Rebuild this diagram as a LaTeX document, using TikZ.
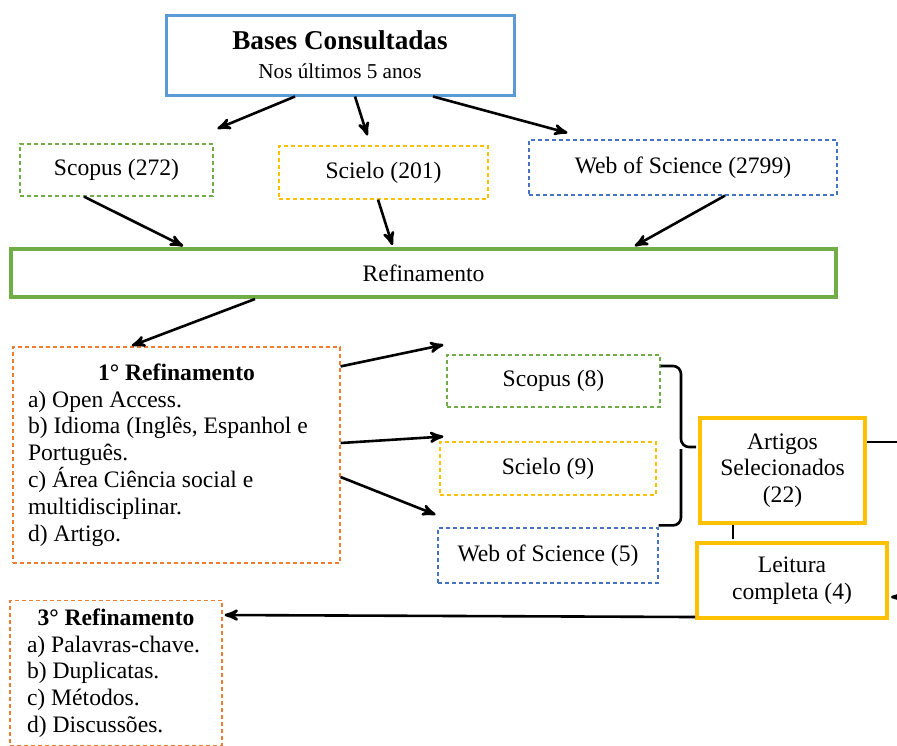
\documentclass[tikz,border=0pt]{standalone}
\usepackage{fontspec}
\setmainfont{Liberation Serif}
\usepackage{xcolor}
\usetikzlibrary{arrows, positioning}
\definecolor{basesblue}{HTML}{5B9BD5}
\definecolor{scopgreen}{HTML}{70AD47}
\definecolor{scielogold}{HTML}{FFC000}
\definecolor{wosblue}{HTML}{4472C4}
\definecolor{reforange}{HTML}{ED7D31}

\begin{document}
\begin{tikzpicture}[->,
			>=stealth',
			shorten >=1pt,
			x=0.5pt, y=-0.5pt,
			line width=1.3pt,
			font=\fontsize{11.8}{13.4}\selectfont,
			dbox/.style={draw, dash pattern=on 2pt off 1.5pt, line width=0.6pt, align=center, inner sep=0pt},
			sbox/.style={draw, line width=2pt, align=center, inner sep=0pt}]
			
			\useasboundingbox (0,0) rectangle (897,745);
			\clip (0,0) rectangle (897,745);
			
			\node[sbox, draw=basesblue, line width=1.5pt, minimum width=174pt, minimum height=40pt] (bases) at (340,55) {{\fontsize{13.6}{14}\selectfont\bfseries Bases Consultadas}\\[1pt]{\fontsize{10.6}{12}\selectfont Nos últimos 5 anos}};
			
			\node[dbox, draw=scopgreen, minimum width=96.5pt, minimum height=26pt] (scopusA) at (116.5,170) {Scopus (272)};
			\node[dbox, draw=scielogold, minimum width=104.5pt, minimum height=26.5pt] (scieloA) at (383.5,172.5) {Scielo (201)};
			\node[dbox, draw=wosblue, minimum width=154pt, minimum height=27.5pt] (wosA) at (683,167.5) {Web of Science (2799)};
			
			\node[sbox, draw=scopgreen, minimum width=412.5pt, minimum height=24pt] (refin) at (423.5,273) {Refinamento};
			
			\node[dbox, draw=reforange, text width=148.5pt, inner xsep=7.5pt, minimum height=108pt, align=flush left] (ref1) at (176.5,455) {\makebox[\linewidth]{\bfseries 1° Refinamento}\\ a) Open Access.\\ b) Idioma (Inglês, Espanhol e\\ Português.\\ c) Área Ciência social e\\ multidisciplinar.\\ d) Artigo.};
			
			\node[dbox, draw=scopgreen, minimum width=106.5pt, minimum height=26pt] (scopusB) at (553.5,381) {Scopus (8)};
			\node[dbox, draw=scielogold, minimum width=108pt, minimum height=26.5pt] (scieloB) at (548,468.5) {Scielo (9)};
			\node[dbox, draw=wosblue, minimum width=110pt, minimum height=27.5pt] (wosB) at (548,555.5) {Web of Science (5)};
			
			\node[sbox, draw=scielogold, minimum width=82.5pt, minimum height=52.5pt] (artigos) at (782.5,470.5) {Artigos\\ Selecionados\\ (22)};
			\node[sbox, draw=scielogold, minimum width=95pt, minimum height=37.5pt] (leitura) at (792,580.5) {Leitura\\ completa (4)};
			
			\node[dbox, draw=reforange, text width=89pt, inner xsep=8.5pt, inner ysep=4pt, anchor=north, align=flush left] (ref3) at (116,600) {\makebox[\linewidth]{\bfseries 3° Refinamento}\\ a) Palavras-chave.\\ b) Duplicatas.\\ c) Métodos.\\ d) Discussões.};
			
			\draw ([xshift=-22.5pt]bases.south) -- ([xshift=1pt, yshift=7pt]scopusA.north east);
			\draw ([xshift=7.5pt]bases.south) -- ([xshift=-7.75pt, yshift=4pt]scieloA.north);
			\draw ([xshift=46.5pt]bases.south) -- ([xshift=20.5pt, yshift=3pt]wosA.north west);
			
			\draw ([xshift=-16.25pt]scopusA.south) -- ([xshift=-119.25pt]refin.north);
			\draw ([xshift=-2.75pt]scieloA.south) -- ([xshift=-15.25pt]refin.north);
			\draw ([xshift=21pt]wosA.south) -- ([xshift=104.75pt]refin.north);
			
			\draw ([xshift=-84.25pt]refin.south) -- ([xshift=-23.25pt]ref1.north);
			
			\draw ([yshift=-10pt]ref1.north east) -- ([xshift=-0.5pt, yshift=5pt]scopusB.north west);
			\draw ([yshift=6pt]ref1.east) -- ([xshift=3pt, yshift=2.5pt]scieloB.north west);
			\draw ([yshift=-11pt]ref1.east) -- ([yshift=6pt]wosB.north west);
			
			\coordinate (tip) at ([xshift=-8.5pt, yshift=11.75pt]artigos.west);
			\draw[-, rounded corners=4pt] ([yshift=7.5pt]scopusB.east) -| (tip) -- (tip -| artigos.west);
			\draw[-, rounded corners=4pt] ([yshift=1pt]wosB.north east) -| (tip);
			
			\draw ([yshift=14.25pt]artigos.east) -- ++(20pt,0) |- ([yshift=-8.25pt]leitura.east);
			\draw[-] ([xshift=-24.75pt]artigos.south) -- ([xshift=-29.5pt]leitura.north);
			\draw ([yshift=1.5pt]leitura.south west) -- ([yshift=-7.5pt]ref3.north east);
		\end{tikzpicture}
\end{document}
